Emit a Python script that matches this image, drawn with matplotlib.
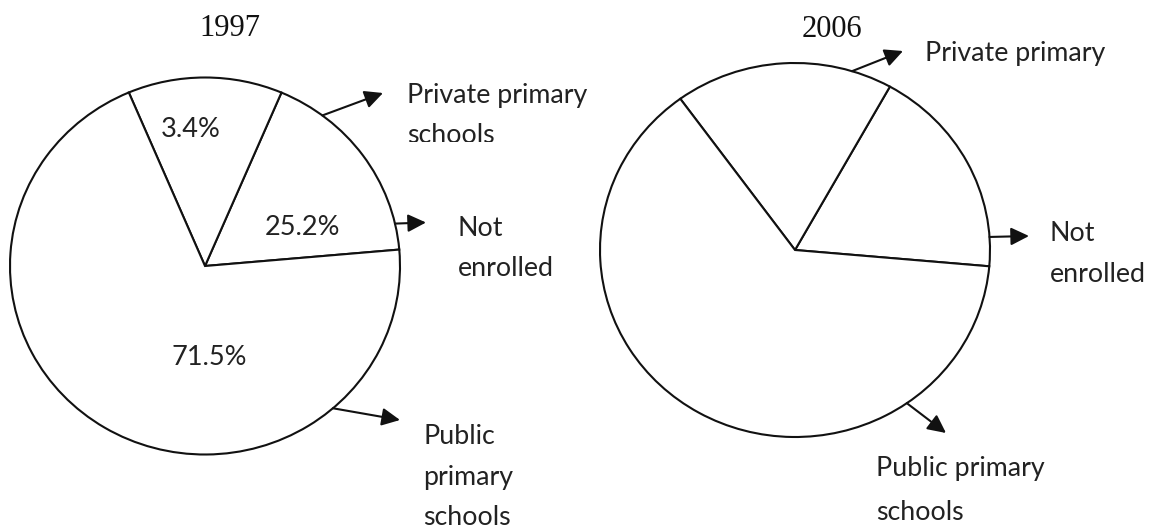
import numpy as np
import matplotlib.pyplot as plt
from matplotlib.transforms import Bbox, TransformedBbox

W, H = 1151, 531

# slice order: not enrolled, private, public
names_1997 = ["Not\nenrolled", "Private primary\nschools", "Public\nprimary\nschools"]
names_2006 = ["Not\nenrolled", "Private primary", "Public primary\nschools"]
# slice sizes as they are drawn in the sketch (it is not to scale)
shares_1997 = [17.2, 12.8, 70.0]
shares_2006 = [18.3, 18.1, 63.6]
pct_1997 = ["25.2%", "3.4%", "71.5%"]
pct_2006 = ["", "", ""]

# layout, in pixels from the top left of the picture (text y = baseline)
pies = [
    dict(year="1997", shares=shares_1997, names=names_1997, pct=pct_1997,
         center=(205, 266), rad=(195, 188.5), start=5, title_xy=(230, 35.7),
         pct_xy=[(303, 235), (191, 137.3), (209.5, 365)],
         arrow_ang=[13, 53, -49],
         heads=[(426, 222.5), (383, 93), (400, 420)],
         text_xy=[(458, 235.7), (406.7, 102.7), (423, 444.3)],
         step=[40.3, 40.5, 40.5], cut=[None, 141.5, None]),
    dict(year="2006", shares=shares_2006, names=names_2006, pct=pct_2006,
         center=(795, 250), rad=(195, 187), start=-5, title_xy=(831.7, 36.7),
         pct_xy=[(0, 0), (0, 0), (0, 0)],
         arrow_ang=[4, 73, -55],
         heads=[(1029, 236), (903, 51), (946, 433)],
         text_xy=[(1050, 240.7), (925, 60.7), (876, 476)],
         step=[41, 41, 44.5], cut=[None, None, 519.5]),
]


def fig_xy(x, y):
    return x / W, 1 - y / H


fig = plt.figure(figsize=(W / 100, H / 100), dpi=100)
fig.patch.set_facecolor("white")

lim = 1.1
for p in pies:
    cx, cy = p["center"]
    rx, ry = p["rad"]
    ax = fig.add_axes([(cx - lim * rx) / W, (H - cy - lim * ry) / H,
                       2 * lim * rx / W, 2 * lim * ry / H])
    ax.pie(p["shares"], startangle=p["start"], colors=["white"] * 3,
           wedgeprops=dict(edgecolor="#111111", linewidth=1.5))
    ax.set_aspect("auto")
    ax.set_xlim(-lim, lim)
    ax.set_ylim(-lim, lim)
    ax.axis("off")

    for txt, (tx, ty) in zip(p["pct"], p["pct_xy"]):
        if txt:
            ax.text(tx, ty, txt, ha="center", va="baseline", fontsize=19.5,
                    family="Lato", color="#222222",
                    transform=fig.transFigure, position=fig_xy(tx, ty))

    fig.text(*fig_xy(*p["title_xy"]), p["year"], ha="center", va="baseline",
             fontsize=22, family="Liberation Serif", color="#111111")

    for i, name in enumerate(p["names"]):
        a = np.deg2rad(p["arrow_ang"][i])
        ax.annotate("", xy=fig_xy(*p["heads"][i]), xycoords="figure fraction",
                    xytext=(np.cos(a), np.sin(a)), textcoords="data",
                    arrowprops=dict(arrowstyle="-|>,head_length=0.55,head_width=0.27",
                                    mutation_scale=20, lw=1.5, color="#111111",
                                    shrinkA=0, shrinkB=0))
        x0, y0 = p["text_xy"][i]
        lines = name.split("\n")
        for j, line in enumerate(lines):
            t = fig.text(*fig_xy(x0, y0 + j * p["step"][i]), line, ha="left",
                         va="baseline", fontsize=19.3, family="Lato", color="#222222")
            # the scan cuts off the bottom of some words
            if p["cut"][i] is not None and j == len(lines) - 1:
                box = Bbox([[0, 1 - p["cut"][i] / H], [1, 1]])
                t.set_clip_box(TransformedBbox(box, fig.transFigure))
                t.set_clip_on(True)

fig.savefig("out.png", dpi=100, facecolor="white")
